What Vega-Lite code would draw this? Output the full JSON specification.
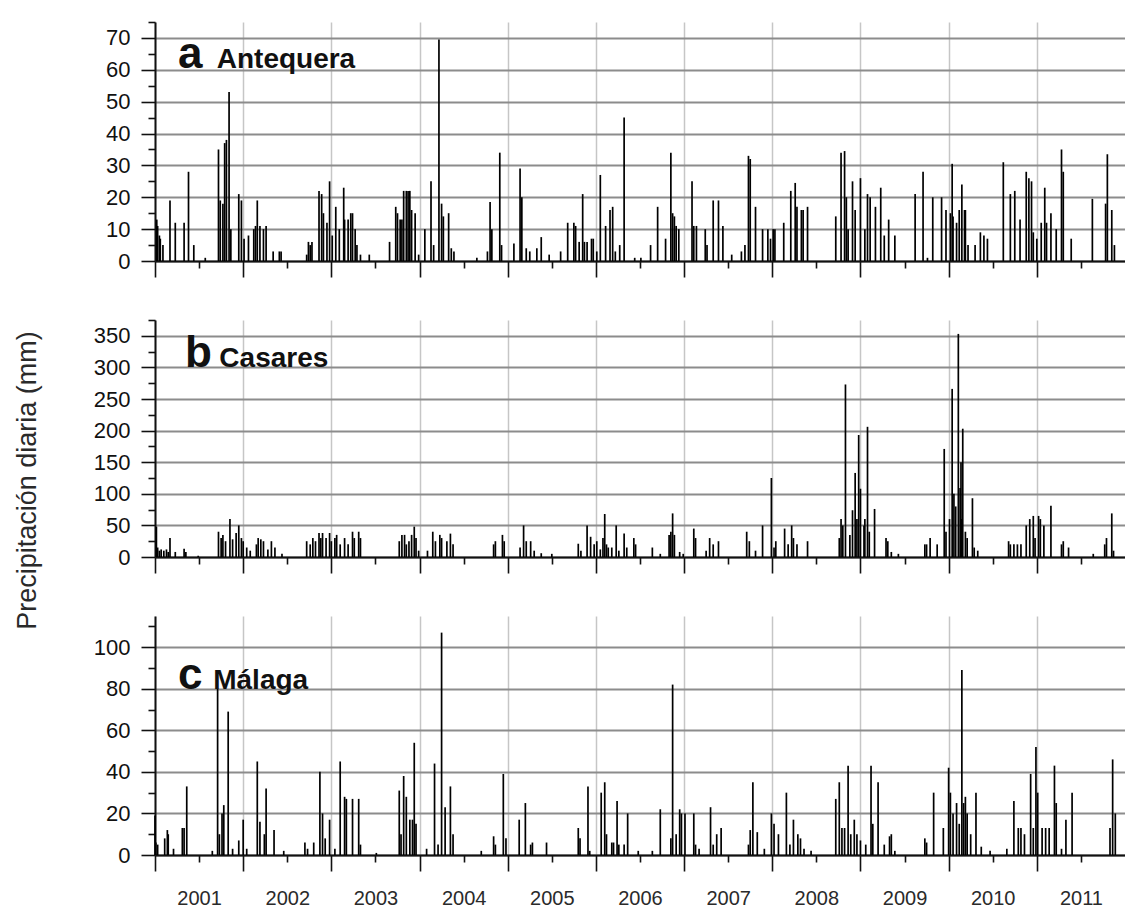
{
  "$schema": "https://vega.github.io/schema/vega-lite/v6.json",
  "padding": {"left": 13, "top": 21, "right": 0, "bottom": 0},
  "background": "white",
  "bounds": "flush",
  "spacing": 59,
  "config": {
    "view": {"stroke": null},
    "font": "Liberation Sans",
    "axis": {"domainColor": "#111", "domainWidth": 2, "tickColor": "#111", "tickWidth": 1.6, "labelFont": "Liberation Sans", "labelColor": "#111", "titleFont": "Liberation Sans", "labelOverlap": false}
  },
  "datasets": {
    "a": [
      {"fecha":2001.02,"mm":13},{"fecha":2001.03,"mm":11},{"fecha":2001.05,"mm":8},{"fecha":2001.06,"mm":7},{"fecha":2001.09,"mm":5},{"fecha":2001.17,"mm":19},{"fecha":2001.23,"mm":12},{"fecha":2001.33,"mm":12},{"fecha":2001.38,"mm":28},{"fecha":2001.44,"mm":5},{"fecha":2001.57,"mm":1},{"fecha":2001.72,"mm":35},{"fecha":2001.74,"mm":19},{"fecha":2001.77,"mm":18},{"fecha":2001.79,"mm":37},{"fecha":2001.81,"mm":38},{"fecha":2001.84,"mm":53},{"fecha":2001.86,"mm":10},{"fecha":2001.95,"mm":21},{"fecha":2001.98,"mm":19},
      {"fecha":2002.01,"mm":7},{"fecha":2002.06,"mm":8},{"fecha":2002.12,"mm":10},{"fecha":2002.14,"mm":11},{"fecha":2002.16,"mm":19},{"fecha":2002.19,"mm":11},{"fecha":2002.23,"mm":10},{"fecha":2002.26,"mm":11},{"fecha":2002.34,"mm":3},{"fecha":2002.41,"mm":3},{"fecha":2002.43,"mm":3},{"fecha":2002.72,"mm":2},{"fecha":2002.74,"mm":6},{"fecha":2002.76,"mm":5},{"fecha":2002.78,"mm":6},{"fecha":2002.86,"mm":22},{"fecha":2002.89,"mm":21},{"fecha":2002.91,"mm":15},{"fecha":2002.95,"mm":12},{"fecha":2002.98,"mm":25},
      {"fecha":2003.01,"mm":8},{"fecha":2003.05,"mm":17},{"fecha":2003.09,"mm":10},{"fecha":2003.14,"mm":23},{"fecha":2003.15,"mm":13},{"fecha":2003.19,"mm":13},{"fecha":2003.22,"mm":15},{"fecha":2003.24,"mm":15},{"fecha":2003.27,"mm":10},{"fecha":2003.29,"mm":5},{"fecha":2003.33,"mm":2},{"fecha":2003.43,"mm":2},{"fecha":2003.66,"mm":6},{"fecha":2003.73,"mm":17},{"fecha":2003.75,"mm":15},{"fecha":2003.78,"mm":13},{"fecha":2003.8,"mm":13},{"fecha":2003.82,"mm":22},{"fecha":2003.85,"mm":22},{"fecha":2003.87,"mm":22},{"fecha":2003.89,"mm":22},{"fecha":2003.91,"mm":16},{"fecha":2003.95,"mm":15},{"fecha":2003.99,"mm":2},
      {"fecha":2004.06,"mm":10},{"fecha":2004.13,"mm":25},{"fecha":2004.16,"mm":5},{"fecha":2004.22,"mm":69.5},{"fecha":2004.25,"mm":18},{"fecha":2004.27,"mm":14},{"fecha":2004.33,"mm":15},{"fecha":2004.36,"mm":4},{"fecha":2004.39,"mm":3},{"fecha":2004.65,"mm":1},{"fecha":2004.77,"mm":3},{"fecha":2004.8,"mm":18.5},{"fecha":2004.82,"mm":10},{"fecha":2004.91,"mm":34},{"fecha":2004.93,"mm":5},
      {"fecha":2005.07,"mm":5.5},{"fecha":2005.14,"mm":29},{"fecha":2005.16,"mm":20},{"fecha":2005.21,"mm":4},{"fecha":2005.25,"mm":3},{"fecha":2005.33,"mm":4},{"fecha":2005.38,"mm":7.5},{"fecha":2005.47,"mm":2},{"fecha":2005.6,"mm":3},{"fecha":2005.68,"mm":12},{"fecha":2005.75,"mm":12},{"fecha":2005.77,"mm":11},{"fecha":2005.81,"mm":6},{"fecha":2005.85,"mm":21},{"fecha":2005.87,"mm":6},{"fecha":2005.9,"mm":6},{"fecha":2005.95,"mm":7},{"fecha":2005.97,"mm":7},
      {"fecha":2006.01,"mm":3},{"fecha":2006.05,"mm":27},{"fecha":2006.11,"mm":11},{"fecha":2006.16,"mm":16},{"fecha":2006.19,"mm":17},{"fecha":2006.22,"mm":3},{"fecha":2006.27,"mm":5},{"fecha":2006.32,"mm":45},{"fecha":2006.44,"mm":1},{"fecha":2006.51,"mm":1},{"fecha":2006.62,"mm":5},{"fecha":2006.7,"mm":17},{"fecha":2006.79,"mm":7},{"fecha":2006.85,"mm":34},{"fecha":2006.87,"mm":15},{"fecha":2006.89,"mm":14},{"fecha":2006.91,"mm":11},{"fecha":2006.94,"mm":10},
      {"fecha":2007.09,"mm":25},{"fecha":2007.11,"mm":11},{"fecha":2007.14,"mm":11},{"fecha":2007.24,"mm":10},{"fecha":2007.26,"mm":5},{"fecha":2007.33,"mm":19},{"fecha":2007.39,"mm":19},{"fecha":2007.44,"mm":11},{"fecha":2007.54,"mm":2},{"fecha":2007.65,"mm":3},{"fecha":2007.69,"mm":5},{"fecha":2007.73,"mm":33},{"fecha":2007.75,"mm":32},{"fecha":2007.81,"mm":17},{"fecha":2007.89,"mm":10},{"fecha":2007.95,"mm":10},{"fecha":2007.98,"mm":7},
      {"fecha":2008.01,"mm":10},{"fecha":2008.03,"mm":10},{"fecha":2008.13,"mm":12},{"fecha":2008.21,"mm":22},{"fecha":2008.26,"mm":24.5},{"fecha":2008.28,"mm":17},{"fecha":2008.33,"mm":16},{"fecha":2008.35,"mm":16},{"fecha":2008.4,"mm":17},{"fecha":2008.72,"mm":14},{"fecha":2008.78,"mm":34},{"fecha":2008.82,"mm":34.5},{"fecha":2008.84,"mm":20},{"fecha":2008.86,"mm":10},{"fecha":2008.91,"mm":25},{"fecha":2008.94,"mm":16},
      {"fecha":2009.0,"mm":26},{"fecha":2009.05,"mm":10},{"fecha":2009.08,"mm":21},{"fecha":2009.11,"mm":20},{"fecha":2009.17,"mm":17},{"fecha":2009.23,"mm":23},{"fecha":2009.27,"mm":8},{"fecha":2009.32,"mm":13},{"fecha":2009.39,"mm":8},{"fecha":2009.62,"mm":21},{"fecha":2009.71,"mm":28},{"fecha":2009.76,"mm":1},{"fecha":2009.82,"mm":20},{"fecha":2009.92,"mm":20},{"fecha":2009.97,"mm":16},
      {"fecha":2010.02,"mm":15},{"fecha":2010.04,"mm":30.5},{"fecha":2010.05,"mm":14},{"fecha":2010.09,"mm":12},{"fecha":2010.12,"mm":16},{"fecha":2010.15,"mm":24},{"fecha":2010.18,"mm":16},{"fecha":2010.19,"mm":16},{"fecha":2010.22,"mm":5},{"fecha":2010.3,"mm":5},{"fecha":2010.36,"mm":9},{"fecha":2010.4,"mm":8},{"fecha":2010.44,"mm":7},{"fecha":2010.62,"mm":31},{"fecha":2010.7,"mm":21},{"fecha":2010.75,"mm":22},{"fecha":2010.81,"mm":13},{"fecha":2010.88,"mm":28},{"fecha":2010.91,"mm":26},{"fecha":2010.94,"mm":25},{"fecha":2010.96,"mm":9},
      {"fecha":2011.0,"mm":7},{"fecha":2011.05,"mm":12},{"fecha":2011.09,"mm":23},{"fecha":2011.11,"mm":12},{"fecha":2011.16,"mm":15},{"fecha":2011.22,"mm":10},{"fecha":2011.28,"mm":35},{"fecha":2011.3,"mm":28},{"fecha":2011.39,"mm":7},{"fecha":2011.63,"mm":19.5},{"fecha":2011.78,"mm":18},{"fecha":2011.8,"mm":33.5},{"fecha":2011.85,"mm":16},{"fecha":2011.88,"mm":5}
    ],
    "b": [
      {"fecha":2001.016,"mm":48},{"fecha":2001.03,"mm":15},{"fecha":2001.05,"mm":10},{"fecha":2001.07,"mm":12},{"fecha":2001.1,"mm":10},{"fecha":2001.13,"mm":12},{"fecha":2001.15,"mm":8},{"fecha":2001.17,"mm":30},{"fecha":2001.23,"mm":8},{"fecha":2001.33,"mm":13},{"fecha":2001.35,"mm":8},{"fecha":2001.49,"mm":2},{"fecha":2001.72,"mm":40},{"fecha":2001.75,"mm":30},{"fecha":2001.77,"mm":35},{"fecha":2001.8,"mm":25},{"fecha":2001.85,"mm":60},{"fecha":2001.88,"mm":28},{"fecha":2001.92,"mm":38},{"fecha":2001.95,"mm":50},{"fecha":2001.98,"mm":30},
      {"fecha":2002.0,"mm":25},{"fecha":2002.04,"mm":15},{"fecha":2002.08,"mm":10},{"fecha":2002.15,"mm":20},{"fecha":2002.17,"mm":30},{"fecha":2002.2,"mm":28},{"fecha":2002.23,"mm":25},{"fecha":2002.28,"mm":12},{"fecha":2002.32,"mm":25},{"fecha":2002.36,"mm":15},{"fecha":2002.44,"mm":5},{"fecha":2002.72,"mm":25},{"fecha":2002.76,"mm":20},{"fecha":2002.79,"mm":30},{"fecha":2002.82,"mm":25},{"fecha":2002.86,"mm":38},{"fecha":2002.88,"mm":30},{"fecha":2002.9,"mm":38},{"fecha":2002.94,"mm":30},{"fecha":2002.98,"mm":38},
      {"fecha":2003.0,"mm":25},{"fecha":2003.04,"mm":30},{"fecha":2003.06,"mm":35},{"fecha":2003.1,"mm":20},{"fecha":2003.15,"mm":30},{"fecha":2003.19,"mm":20},{"fecha":2003.24,"mm":40},{"fecha":2003.26,"mm":30},{"fecha":2003.31,"mm":40},{"fecha":2003.33,"mm":30},{"fecha":2003.77,"mm":25},{"fecha":2003.8,"mm":35},{"fecha":2003.83,"mm":35},{"fecha":2003.85,"mm":20},{"fecha":2003.88,"mm":25},{"fecha":2003.91,"mm":35},{"fecha":2003.94,"mm":48},{"fecha":2003.96,"mm":30},{"fecha":2003.99,"mm":10},
      {"fecha":2004.09,"mm":10},{"fecha":2004.15,"mm":40},{"fecha":2004.18,"mm":25},{"fecha":2004.23,"mm":35},{"fecha":2004.25,"mm":30},{"fecha":2004.31,"mm":25},{"fecha":2004.35,"mm":37},{"fecha":2004.38,"mm":20},{"fecha":2004.84,"mm":20},{"fecha":2004.86,"mm":25},{"fecha":2004.94,"mm":35},{"fecha":2004.96,"mm":25},
      {"fecha":2005.14,"mm":15},{"fecha":2005.18,"mm":50},{"fecha":2005.21,"mm":25},{"fecha":2005.26,"mm":25},{"fecha":2005.3,"mm":10},{"fecha":2005.38,"mm":6},{"fecha":2005.5,"mm":5},{"fecha":2005.8,"mm":21},{"fecha":2005.83,"mm":10},{"fecha":2005.9,"mm":50},{"fecha":2005.94,"mm":32},{"fecha":2005.98,"mm":20},
      {"fecha":2006.01,"mm":25},{"fecha":2006.05,"mm":12},{"fecha":2006.08,"mm":30},{"fecha":2006.1,"mm":68},{"fecha":2006.12,"mm":20},{"fecha":2006.14,"mm":15},{"fecha":2006.18,"mm":15},{"fecha":2006.23,"mm":50},{"fecha":2006.26,"mm":10},{"fecha":2006.32,"mm":37},{"fecha":2006.35,"mm":15},{"fecha":2006.43,"mm":30},{"fecha":2006.45,"mm":20},{"fecha":2006.64,"mm":15},{"fecha":2006.73,"mm":5},{"fecha":2006.83,"mm":35},{"fecha":2006.85,"mm":40},{"fecha":2006.87,"mm":69},{"fecha":2006.89,"mm":35},{"fecha":2006.95,"mm":8},{"fecha":2006.99,"mm":5},
      {"fecha":2007.11,"mm":45},{"fecha":2007.13,"mm":30},{"fecha":2007.25,"mm":10},{"fecha":2007.29,"mm":30},{"fecha":2007.33,"mm":20},{"fecha":2007.39,"mm":25},{"fecha":2007.71,"mm":40},{"fecha":2007.74,"mm":25},{"fecha":2007.81,"mm":10},{"fecha":2007.89,"mm":50},{"fecha":2007.99,"mm":125},
      {"fecha":2008.02,"mm":15},{"fecha":2008.04,"mm":25},{"fecha":2008.14,"mm":45},{"fecha":2008.18,"mm":20},{"fecha":2008.22,"mm":50},{"fecha":2008.24,"mm":30},{"fecha":2008.28,"mm":20},{"fecha":2008.4,"mm":25},{"fecha":2008.76,"mm":30},{"fecha":2008.78,"mm":60},{"fecha":2008.8,"mm":50},{"fecha":2008.83,"mm":273},{"fecha":2008.88,"mm":35},{"fecha":2008.91,"mm":74},{"fecha":2008.94,"mm":133},{"fecha":2008.96,"mm":60},{"fecha":2008.98,"mm":193},
      {"fecha":2009.0,"mm":108},{"fecha":2009.04,"mm":50},{"fecha":2009.05,"mm":60},{"fecha":2009.08,"mm":206},{"fecha":2009.1,"mm":40},{"fecha":2009.16,"mm":76},{"fecha":2009.29,"mm":30},{"fecha":2009.31,"mm":25},{"fecha":2009.35,"mm":8},{"fecha":2009.43,"mm":5},{"fecha":2009.73,"mm":20},{"fecha":2009.75,"mm":20},{"fecha":2009.79,"mm":30},{"fecha":2009.87,"mm":20},{"fecha":2009.95,"mm":171},{"fecha":2009.97,"mm":40},
      {"fecha":2010.01,"mm":60},{"fecha":2010.04,"mm":266},{"fecha":2010.06,"mm":100},{"fecha":2010.08,"mm":80},{"fecha":2010.11,"mm":353},{"fecha":2010.13,"mm":109},{"fecha":2010.14,"mm":150},{"fecha":2010.15,"mm":60},{"fecha":2010.16,"mm":203},{"fecha":2010.19,"mm":40},{"fecha":2010.21,"mm":30},{"fecha":2010.27,"mm":93},{"fecha":2010.29,"mm":15},{"fecha":2010.33,"mm":10},{"fecha":2010.68,"mm":25},{"fecha":2010.7,"mm":20},{"fecha":2010.74,"mm":20},{"fecha":2010.78,"mm":20},{"fecha":2010.82,"mm":20},{"fecha":2010.88,"mm":50},{"fecha":2010.92,"mm":60},{"fecha":2010.96,"mm":65},{"fecha":2010.98,"mm":30},
      {"fecha":2011.02,"mm":65},{"fecha":2011.04,"mm":60},{"fecha":2011.08,"mm":50},{"fecha":2011.16,"mm":81},{"fecha":2011.28,"mm":20},{"fecha":2011.3,"mm":25},{"fecha":2011.36,"mm":15},{"fecha":2011.64,"mm":5},{"fecha":2011.77,"mm":20},{"fecha":2011.79,"mm":30},{"fecha":2011.85,"mm":69},{"fecha":2011.87,"mm":10}
    ],
    "c": [
      {"fecha":2001.0,"mm":19},{"fecha":2001.01,"mm":6},{"fecha":2001.03,"mm":5},{"fecha":2001.11,"mm":8},{"fecha":2001.14,"mm":12},{"fecha":2001.15,"mm":10},{"fecha":2001.21,"mm":3},{"fecha":2001.31,"mm":13},{"fecha":2001.33,"mm":13},{"fecha":2001.36,"mm":33},{"fecha":2001.65,"mm":2},{"fecha":2001.71,"mm":80},{"fecha":2001.73,"mm":10},{"fecha":2001.76,"mm":20},{"fecha":2001.78,"mm":24},{"fecha":2001.83,"mm":69},{"fecha":2001.88,"mm":3},{"fecha":2001.95,"mm":7},
      {"fecha":2002.0,"mm":17},{"fecha":2002.04,"mm":3},{"fecha":2002.16,"mm":45},{"fecha":2002.19,"mm":16},{"fecha":2002.24,"mm":10},{"fecha":2002.26,"mm":32},{"fecha":2002.35,"mm":12},{"fecha":2002.46,"mm":2},{"fecha":2002.7,"mm":6},{"fecha":2002.73,"mm":3},{"fecha":2002.8,"mm":6},{"fecha":2002.87,"mm":40},{"fecha":2002.9,"mm":20},{"fecha":2002.93,"mm":8},{"fecha":2002.98,"mm":17},
      {"fecha":2003.04,"mm":3},{"fecha":2003.1,"mm":45},{"fecha":2003.15,"mm":28},{"fecha":2003.17,"mm":27},{"fecha":2003.24,"mm":27},{"fecha":2003.31,"mm":27},{"fecha":2003.33,"mm":5},{"fecha":2003.51,"mm":1},{"fecha":2003.77,"mm":31},{"fecha":2003.79,"mm":10},{"fecha":2003.82,"mm":38},{"fecha":2003.85,"mm":28},{"fecha":2003.89,"mm":17},{"fecha":2003.92,"mm":17},{"fecha":2003.94,"mm":54},{"fecha":2003.96,"mm":15},
      {"fecha":2004.08,"mm":3},{"fecha":2004.17,"mm":44},{"fecha":2004.21,"mm":5},{"fecha":2004.25,"mm":107},{"fecha":2004.29,"mm":23},{"fecha":2004.35,"mm":33},{"fecha":2004.38,"mm":10},{"fecha":2004.7,"mm":2},{"fecha":2004.84,"mm":9},{"fecha":2004.86,"mm":5},{"fecha":2004.95,"mm":39},{"fecha":2004.98,"mm":8},
      {"fecha":2005.13,"mm":17},{"fecha":2005.2,"mm":25},{"fecha":2005.26,"mm":5},{"fecha":2005.28,"mm":6},{"fecha":2005.44,"mm":6},{"fecha":2005.8,"mm":13},{"fecha":2005.82,"mm":8},{"fecha":2005.91,"mm":33},{"fecha":2005.93,"mm":2},
      {"fecha":2006.06,"mm":30},{"fecha":2006.1,"mm":35},{"fecha":2006.12,"mm":10},{"fecha":2006.18,"mm":6},{"fecha":2006.2,"mm":6},{"fecha":2006.24,"mm":26},{"fecha":2006.26,"mm":5},{"fecha":2006.32,"mm":5},{"fecha":2006.36,"mm":20},{"fecha":2006.48,"mm":2},{"fecha":2006.64,"mm":2},{"fecha":2006.73,"mm":22},{"fecha":2006.85,"mm":8},{"fecha":2006.87,"mm":82},{"fecha":2006.91,"mm":10},{"fecha":2006.95,"mm":22},{"fecha":2006.97,"mm":20},
      {"fecha":2007.01,"mm":20},{"fecha":2007.11,"mm":20},{"fecha":2007.13,"mm":5},{"fecha":2007.17,"mm":3},{"fecha":2007.3,"mm":23},{"fecha":2007.33,"mm":5},{"fecha":2007.37,"mm":10},{"fecha":2007.42,"mm":13},{"fecha":2007.73,"mm":5},{"fecha":2007.75,"mm":12},{"fecha":2007.78,"mm":35},{"fecha":2007.83,"mm":11},{"fecha":2007.91,"mm":3},{"fecha":2007.99,"mm":20},
      {"fecha":2008.02,"mm":15},{"fecha":2008.07,"mm":10},{"fecha":2008.16,"mm":30},{"fecha":2008.2,"mm":5},{"fecha":2008.24,"mm":17},{"fecha":2008.29,"mm":10},{"fecha":2008.32,"mm":8},{"fecha":2008.36,"mm":3},{"fecha":2008.44,"mm":2},{"fecha":2008.72,"mm":27},{"fecha":2008.76,"mm":35},{"fecha":2008.79,"mm":13},{"fecha":2008.82,"mm":13},{"fecha":2008.86,"mm":43},{"fecha":2008.89,"mm":10},{"fecha":2008.93,"mm":17},{"fecha":2008.96,"mm":10},
      {"fecha":2009.0,"mm":7},{"fecha":2009.06,"mm":5},{"fecha":2009.12,"mm":43},{"fecha":2009.14,"mm":15},{"fecha":2009.2,"mm":35},{"fecha":2009.27,"mm":5},{"fecha":2009.33,"mm":9},{"fecha":2009.35,"mm":10},{"fecha":2009.39,"mm":2},{"fecha":2009.73,"mm":8},{"fecha":2009.75,"mm":6},{"fecha":2009.83,"mm":30},{"fecha":2009.94,"mm":13},
      {"fecha":2010.0,"mm":42},{"fecha":2010.02,"mm":30},{"fecha":2010.05,"mm":20},{"fecha":2010.09,"mm":25},{"fecha":2010.12,"mm":15},{"fecha":2010.15,"mm":89},{"fecha":2010.17,"mm":25},{"fecha":2010.19,"mm":28},{"fecha":2010.21,"mm":20},{"fecha":2010.25,"mm":10},{"fecha":2010.31,"mm":30},{"fecha":2010.37,"mm":4},{"fecha":2010.47,"mm":2},{"fecha":2010.66,"mm":3},{"fecha":2010.74,"mm":26},{"fecha":2010.79,"mm":13},{"fecha":2010.82,"mm":13},{"fecha":2010.86,"mm":10},{"fecha":2010.93,"mm":39},{"fecha":2010.96,"mm":13},{"fecha":2010.99,"mm":52},
      {"fecha":2011.01,"mm":30},{"fecha":2011.06,"mm":13},{"fecha":2011.1,"mm":13},{"fecha":2011.14,"mm":13},{"fecha":2011.2,"mm":43},{"fecha":2011.22,"mm":25},{"fecha":2011.28,"mm":3},{"fecha":2011.33,"mm":17},{"fecha":2011.4,"mm":30},{"fecha":2011.83,"mm":13},{"fecha":2011.86,"mm":46},{"fecha":2011.89,"mm":20}
    ]
  },
  "vconcat": [
    {
      "width": 970, "height": 239,
      "resolve": {"axis": {"x": "independent", "y": "independent"}},
      "layer": [
        {
          "data": {"name": "a"},
          "mark": {"type": "rule", "color": "#000", "strokeWidth": 1.7},
          "encoding": {
            "x": {"field": "fecha", "type": "quantitative", "scale": {"domain": [2001, 2012], "nice": false, "zero": false},
              "axis": {"orient": "bottom", "title": null, "labels": false, "values": [2001,2002,2003,2004,2005,2006,2007,2008,2009,2010,2011],
                "grid": true, "gridColor": "#c6c6c6", "gridWidth": 1.5, "tickSize": 16}},
            "y": {"field": "mm", "type": "quantitative", "scale": {"domain": [0, 75], "nice": false},
              "axis": {"orient": "left", "title": null, "values": [0,10,20,30,40,50,60,70],
                "labelFontSize": 22, "labelPadding": 11,
                "grid": true, "gridColor": "#8c8c8c", "gridWidth": 2, "tickSize": 14}},
            "y2": {"datum": 0}
          }
        },
        {
          "data": {"name": "a"},
          "mark": {"type": "rule", "opacity": 0},
          "encoding": {
            "x": {"field": "fecha", "type": "quantitative",
              "axis": {"orient": "bottom", "title": null, "labels": false, "domain": false, "grid": false, "tickSize": 7,
                "values": [2001.5,2002.5,2003.5,2004.5,2005.5,2006.5,2007.5,2008.5,2009.5,2010.5,2011.5]}},
            "y": {"field": "mm", "type": "quantitative",
              "axis": {"orient": "left", "title": null, "labels": false, "domain": false, "grid": false, "tickSize": 7,
                "values": [5,15,25,35,45,55,65,75]}},
            "y2": {"datum": 0}
          }
        },
        {
          "data": {"values": [{"letra": "a", "nombre": "Antequera"}]},
          "mark": {"type": "text", "fontSize": 44, "fontWeight": "bold", "align": "left", "baseline": "alphabetic", "color": "#111"},
          "encoding": {"x": {"datum": 2001.26, "type": "quantitative", "axis": null}, "y": {"datum": 60.5, "type": "quantitative", "axis": null}, "text": {"field": "letra"}}
        },
        {
          "data": {"values": [{"letra": "a", "nombre": "Antequera"}]},
          "mark": {"type": "text", "fontSize": 28, "fontWeight": "bold", "align": "left", "baseline": "alphabetic", "color": "#111"},
          "encoding": {"x": {"datum": 2001.7, "type": "quantitative", "axis": null}, "y": {"datum": 60.5, "type": "quantitative", "axis": null}, "text": {"field": "nombre"}}
        }
      ]
    },
    {
      "width": 970, "height": 237,
      "resolve": {"axis": {"x": "independent", "y": "independent"}},
      "layer": [
        {
          "data": {"name": "b"},
          "mark": {"type": "rule", "color": "#000", "strokeWidth": 1.7},
          "encoding": {
            "x": {"field": "fecha", "type": "quantitative", "scale": {"domain": [2001, 2012], "nice": false, "zero": false},
              "axis": {"orient": "bottom", "title": null, "labels": false, "values": [2001,2002,2003,2004,2005,2006,2007,2008,2009,2010,2011],
                "grid": true, "gridColor": "#c6c6c6", "gridWidth": 1.5, "tickSize": 16}},
            "y": {"field": "mm", "type": "quantitative", "scale": {"domain": [0, 375], "nice": false},
              "axis": {"orient": "left", "title": "Precipitación diaria (mm)", "titleFontSize": 27, "titleFontWeight": "normal", "titleColor": "#2a2a2a",
                "titleAngle": 270, "titleX": -128, "titleY": 160, "titleAlign": "center", "titleBaseline": "middle",
                "values": [0,50,100,150,200,250,300,350],
                "labelFontSize": 22, "labelPadding": 11,
                "grid": true, "gridColor": "#8c8c8c", "gridWidth": 2, "tickSize": 14}},
            "y2": {"datum": 0}
          }
        },
        {
          "data": {"name": "b"},
          "mark": {"type": "rule", "opacity": 0},
          "encoding": {
            "x": {"field": "fecha", "type": "quantitative",
              "axis": {"orient": "bottom", "title": null, "labels": false, "domain": false, "grid": false, "tickSize": 7,
                "values": [2001.5,2002.5,2003.5,2004.5,2005.5,2006.5,2007.5,2008.5,2009.5,2010.5,2011.5]}},
            "y": {"field": "mm", "type": "quantitative",
              "axis": {"orient": "left", "title": null, "labels": false, "domain": false, "grid": false, "tickSize": 7,
                "values": [25,75,125,175,225,275,325,375]}},
            "y2": {"datum": 0}
          }
        },
        {
          "data": {"values": [{"letra": "b", "nombre": "Casares"}]},
          "mark": {"type": "text", "fontSize": 44, "fontWeight": "bold", "align": "left", "baseline": "alphabetic", "color": "#111"},
          "encoding": {"x": {"datum": 2001.34, "type": "quantitative", "axis": null}, "y": {"datum": 300, "type": "quantitative", "axis": null}, "text": {"field": "letra"}}
        },
        {
          "data": {"values": [{"letra": "b", "nombre": "Casares"}]},
          "mark": {"type": "text", "fontSize": 28, "fontWeight": "bold", "align": "left", "baseline": "alphabetic", "color": "#111"},
          "encoding": {"x": {"datum": 2001.73, "type": "quantitative", "axis": null}, "y": {"datum": 300, "type": "quantitative", "axis": null}, "text": {"field": "nombre"}}
        }
      ]
    },
    {
      "width": 970, "height": 239,
      "resolve": {"axis": {"x": "independent", "y": "independent"}},
      "layer": [
        {
          "data": {"name": "c"},
          "mark": {"type": "rule", "color": "#000", "strokeWidth": 1.7},
          "encoding": {
            "x": {"field": "fecha", "type": "quantitative", "scale": {"domain": [2001, 2012], "nice": false, "zero": false},
              "axis": {"orient": "bottom", "title": null, "labels": false, "values": [2001,2002,2003,2004,2005,2006,2007,2008,2009,2010,2011],
                "grid": true, "gridColor": "#c6c6c6", "gridWidth": 1.5, "tickSize": 16}},
            "y": {"field": "mm", "type": "quantitative", "scale": {"domain": [0, 115], "nice": false},
              "axis": {"orient": "left", "title": null, "values": [0,20,40,60,80,100],
                "labelFontSize": 22, "labelPadding": 11,
                "grid": true, "gridColor": "#8c8c8c", "gridWidth": 2, "tickSize": 14}},
            "y2": {"datum": 0}
          }
        },
        {
          "data": {"name": "c"},
          "mark": {"type": "rule", "opacity": 0},
          "encoding": {
            "x": {"field": "fecha", "type": "quantitative",
              "axis": {"orient": "bottom", "title": null, "domain": false, "grid": false, "tickSize": 7,
                "values": [2001.5,2002.5,2003.5,2004.5,2005.5,2006.5,2007.5,2008.5,2009.5,2010.5,2011.5],
                "labelExpr": "format(floor(datum.value), 'd')", "labelColor": "#2a2a2a",
                "labelFontSize": 20, "labelPadding": 26, "labelFlush": false, "labelBound": false}},
            "y": {"field": "mm", "type": "quantitative",
              "axis": {"orient": "left", "title": null, "labels": false, "domain": false, "grid": false, "tickSize": 7,
                "values": [10,30,50,70,90,110]}},
            "y2": {"datum": 0}
          }
        },
        {
          "data": {"values": [{"letra": "c", "nombre": "Málaga"}]},
          "mark": {"type": "text", "fontSize": 44, "fontWeight": "bold", "align": "left", "baseline": "alphabetic", "color": "#111"},
          "encoding": {"x": {"datum": 2001.26, "type": "quantitative", "axis": null}, "y": {"datum": 80, "type": "quantitative", "axis": null}, "text": {"field": "letra"}}
        },
        {
          "data": {"values": [{"letra": "c", "nombre": "Málaga"}]},
          "mark": {"type": "text", "fontSize": 28, "fontWeight": "bold", "align": "left", "baseline": "alphabetic", "color": "#111"},
          "encoding": {"x": {"datum": 2001.66, "type": "quantitative", "axis": null}, "y": {"datum": 80, "type": "quantitative", "axis": null}, "text": {"field": "nombre"}}
        }
      ]
    }
  ]
}
